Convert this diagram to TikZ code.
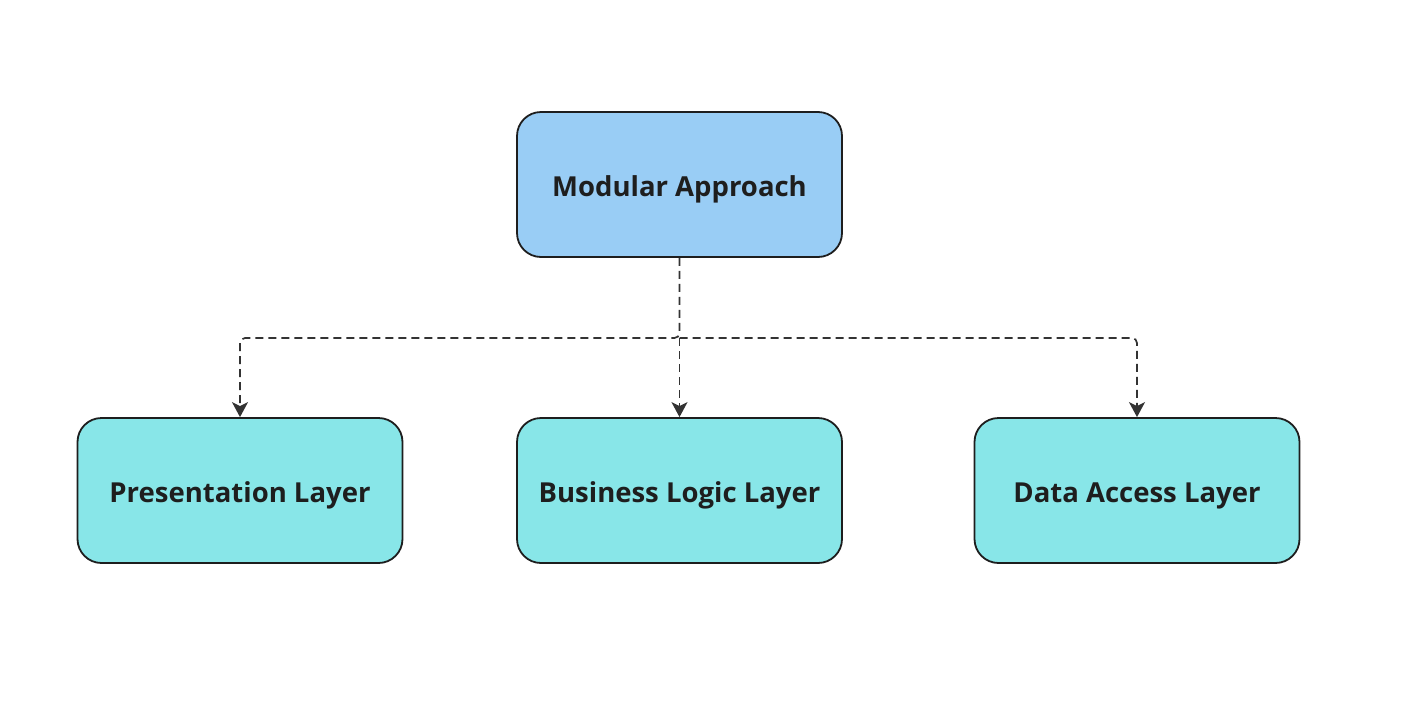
\documentclass[tikz,border=0pt]{standalone}
\usepackage{fontspec}
\setmainfont{Open Sans}
\usetikzlibrary{arrows.meta}
\definecolor{topfill}{HTML}{99CDF5}
\definecolor{layerfill}{HTML}{88E6E8}
\definecolor{edgeline}{HTML}{1E1E1E}
\definecolor{arrowline}{HTML}{333333}
\tikzset{
  box/.style={draw=edgeline, line width=1.8pt, rounded corners=24pt,
    minimum width=325pt, minimum height=145pt, inner sep=0pt,
    text height=24pt, text depth=0pt,
    font=\fontsize{27.5}{32}\selectfont\bfseries, text=edgeline},
  topbox/.style={box, fill=topfill},
  layerbox/.style={box, fill=layerfill},
  link/.style={draw=arrowline, line width=1.7pt, dash pattern=on 8pt off 5pt,
    rounded corners=5pt, -{Stealth[length=15pt,width=16pt,inset=4pt]}}
}
\begin{document}
\begin{tikzpicture}[x=1pt,y=-1pt]
\useasboundingbox[fill=white] (0,0) rectangle (1406,710);
\node[topbox] (top) at (679.5,184.5) {Modular Approach};
\node[layerbox] (pres) at (240,490.5) {Presentation Layer};
\node[layerbox] (bus) at (679.5,490.5) {Business Logic Layer};
\node[layerbox] (data) at (1137,490.5) {Data Access Layer};
\coordinate (split) at (679.5,338);
\draw[link] (top.south) -- (split) -| (pres.north);
\draw[link] (split) -- (bus.north);
\draw[link] (split) -| (data.north);
\end{tikzpicture}
\end{document}
